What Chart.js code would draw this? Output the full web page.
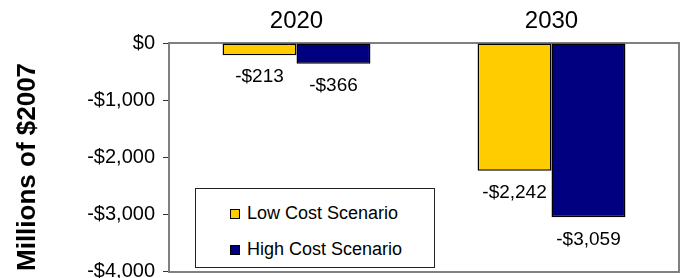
<!DOCTYPE html>
<html>
<head>
<meta charset="utf-8">
<script src="https://cdn.jsdelivr.net/npm/chart.js@4/dist/chart.umd.min.js"></script>
<style>
  body { margin: 0; background: #fff; }
  #wrap { position: relative; width: 685px; height: 278px; overflow: hidden; }
  #legend {
    position: absolute; left: 195px; top: 188px; width: 240px; height: 80px;
    border: 1px solid #222; background: #fff; box-sizing: border-box;
    font-family: "Liberation Sans", Arial, sans-serif; font-size: 18px; color: #000;
  }
  .lg-item { position: absolute; left: 34px; display: flex; align-items: center; white-space: nowrap; }
  .lg-box { width: 8px; height: 8px; border: 1.5px solid #000; margin-right: 7px; }
</style>
</head>
<body>
<div id="wrap">
  <canvas id="chart" width="685" height="278"></canvas>
  <div id="legend"></div>
</div>
<script>
// data
const years = ['2020', '2030'];
const seriesNames = ['Low Cost Scenario', 'High Cost Scenario'];
const lowCost = [-213, -2242];
const highCost = [-366, -3059];
const yTicks = [0, -1000, -2000, -3000, -4000];

const colors = ['#FFCC00', '#000080'];
const FONT = '"Liberation Sans", Arial, sans-serif';

const money = v => (v < 0 ? '-$' : '$') + Math.abs(v).toLocaleString('en-US');

// gray frame around the plot area (right + bottom edges show)
const frame = {
  id: 'frame',
  beforeDatasetsDraw(chart) {
    const { ctx, chartArea: a } = chart;
    ctx.save();
    ctx.strokeStyle = '#808080';
    ctx.lineWidth = 2;
    ctx.strokeRect(a.left, a.top, a.right - a.left, a.bottom - a.top + 1);
    ctx.restore();
  }
};

// value labels under each bar end
const valueLabels = {
  id: 'valueLabels',
  afterDatasetsDraw(chart) {
    const { ctx } = chart;
    ctx.save();
    ctx.font = '19px ' + FONT;
    ctx.fillStyle = '#000';
    ctx.textAlign = 'center';
    ctx.textBaseline = 'middle';
    chart.data.datasets.forEach((ds, i) => {
      chart.getDatasetMeta(i).data.forEach((bar, j) => {
        ctx.fillText(money(ds.data[j]), bar.x, bar.y + 22);
      });
    });
    ctx.restore();
  }
};

const chart = new Chart(document.getElementById('chart'), {
  type: 'bar',
  data: {
    labels: years,
    datasets: [
      { label: seriesNames[0], data: lowCost, backgroundColor: colors[0], borderColor: '#000', borderWidth: 1.5, borderSkipped: false },
      { label: seriesNames[1], data: highCost, backgroundColor: colors[1], borderColor: '#000', borderWidth: 1.5, borderSkipped: false }
    ]
  },
  options: {
    responsive: false,
    animation: false,
    devicePixelRatio: 1,
    layout: { padding: { left: 0, right: 6, top: 0, bottom: 7 } },
    datasets: { bar: { categoryPercentage: 0.58, barPercentage: 1.0 } },
    plugins: { legend: { display: false }, tooltip: { enabled: false } },
    scales: {
      x: {
        position: 'top',
        grid: { display: false, drawTicks: false },
        border: { display: true, color: '#444', width: 1.5 },
        ticks: { color: '#000', font: { family: FONT, size: 24 }, padding: 7, maxRotation: 0 },
        afterFit(s) { s.height = 43; s.paddingLeft = 0; s.paddingRight = 0; }
      },
      y: {
        min: -4000,
        max: 0,
        afterBuildTicks(s) { s.ticks = yTicks.map(v => ({ value: v })); },
        grid: { drawOnChartArea: false, drawTicks: true, tickLength: 6, color: '#333' },
        border: { display: true, color: '#333', width: 1.5 },
        ticks: { color: '#000', font: { family: FONT, size: 20 }, padding: 8, callback: v => money(v) },
        title: {
          display: true, text: 'Millions of $2007', align: 'start', color: '#000',
          font: { family: FONT, size: 26, weight: 'bold' }, padding: { top: 12 }
        },
        afterFit(s) { s.width = 169; s.paddingTop = 0; s.paddingBottom = 0; }
      }
    }
  },
  plugins: [frame, valueLabels]
});

// legend box inside the plot, built from the chart's datasets
const legendEl = document.getElementById('legend');
const rowTops = [14, 50];
legendEl.innerHTML = chart.data.datasets.map((ds, i) =>
  `<div class="lg-item" style="top:${rowTops[i]}px"><span class="lg-box" style="background:${ds.backgroundColor}"></span><span>${ds.label}</span></div>`
).join('');
</script>
</body>
</html>
